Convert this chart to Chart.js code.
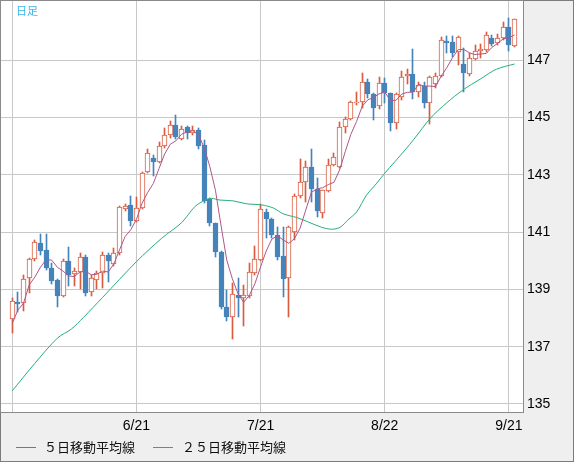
<!DOCTYPE html>
<html>
<head>
<meta charset="utf-8">
<script src="https://cdn.jsdelivr.net/npm/chart.js@4"></script>
<style>
  html, body { margin: 0; padding: 0; background: #efefef; }
  canvas { display: block; }
</style>
</head>
<body>
<canvas id="candle_chart" width="574" height="462"></canvas>
<script>
// daily candles, index 0 = 5/22 ... 89 = 9/22
var opens = [137.97,138.55,138.52,139.39,140.05,140.63,140.38,139.76,139.33,138.78,
  140.00,139.54,139.62,140.12,138.90,139.33,139.56,140.21,139.89,140.26,
  141.80,141.94,141.38,141.83,143.09,143.58,143.46,144.02,144.38,144.74,
  144.25,144.66,144.45,144.57,144.04,142.16,141.31,140.30,138.40,138.03,
  138.80,138.69,138.78,139.59,140.03,141.70,141.45,140.90,140.17,139.39,
  141.02,142.26,142.74,143.26,142.51,141.68,142.45,143.33,143.29,144.66,
  144.94,145.52,145.53,146.25,145.81,145.40,146.20,145.85,144.80,145.73,
  146.45,146.52,145.88,146.11,145.50,146.16,146.45,147.68,147.65,147.30,
  146.87,146.51,147.04,147.33,147.36,147.77,147.59,147.77,148.17,147.51];
var highs = [138.71,138.90,139.50,140.10,140.73,140.95,140.95,139.91,139.35,140.05,
  140.49,139.75,140.28,140.20,139.51,139.66,140.30,140.26,140.44,141.91,
  141.97,142.26,142.24,143.11,143.90,143.69,144.14,144.63,144.89,145.09,
  144.70,144.70,144.70,144.63,144.22,142.20,141.33,140.33,138.98,139.22,
  139.39,139.15,139.93,140.50,141.99,141.80,141.48,141.19,141.19,141.20,
  142.33,143.55,143.48,143.90,142.88,142.48,143.54,143.75,144.86,145.03,
  145.58,145.88,146.54,146.35,145.87,146.40,146.39,145.87,145.87,146.64,
  146.68,147.38,146.25,146.23,146.45,146.57,147.82,147.85,147.85,147.85,
  147.42,147.24,147.53,147.57,148.00,147.88,147.92,148.35,148.49,148.45];
var lows = [137.49,138.22,138.25,138.87,140.00,140.20,139.68,139.19,138.40,138.75,
  139.12,139.12,139.01,138.78,138.77,139.00,139.04,139.27,139.83,140.20,
  141.75,141.22,141.34,141.80,143.05,142.96,143.40,143.95,144.30,144.25,
  144.20,144.24,144.40,143.90,142.00,141.21,140.14,138.33,137.91,137.26,
  138.05,137.74,138.70,139.50,139.98,140.79,140.79,140.03,138.75,138.02,
  140.73,142.18,142.06,142.06,141.54,141.51,142.41,143.30,143.25,144.45,
  144.90,145.45,145.32,145.67,144.91,145.30,145.50,144.54,144.59,145.60,
  146.17,145.65,145.71,145.34,144.77,146.02,146.40,147.24,147.12,146.85,
  145.90,146.45,147.00,147.07,147.30,147.50,147.55,147.70,147.32,147.45];
var closes = [138.60,138.50,139.37,140.05,140.65,140.35,139.76,139.31,138.78,140.00,
  139.51,139.65,140.12,138.89,139.39,139.59,140.20,140.00,140.26,141.87,
  141.91,141.38,141.83,143.06,143.75,143.46,144.02,144.38,144.74,144.33,
  144.61,144.45,144.57,144.02,142.09,141.31,140.32,138.38,138.03,138.83,
  138.70,138.81,139.60,140.05,141.80,141.45,140.90,140.14,139.38,141.17,
  142.26,142.76,143.26,142.50,141.75,142.47,143.33,143.63,144.66,144.94,
  145.53,145.55,146.25,145.81,145.34,146.20,145.85,144.80,145.82,146.43,
  146.52,145.90,146.14,145.50,146.43,146.45,147.71,147.61,147.26,147.80,
  146.54,147.07,147.33,147.38,147.88,147.57,147.77,148.17,147.53,148.43];

// 5 day moving average
var ma5 = [137.82,138.28,138.52,139.16,139.43,139.78,140.04,140.02,139.77,139.64,
  139.47,139.45,139.61,139.63,139.51,139.53,139.64,139.61,139.89,140.38,
  140.85,141.08,141.45,142.01,142.39,142.70,143.22,143.73,144.07,144.19,
  144.42,144.50,144.54,144.40,143.95,143.29,142.46,141.22,140.03,139.37,
  138.85,138.55,138.79,139.20,139.79,140.34,140.76,140.87,140.73,140.61,
  140.77,141.14,141.77,142.39,142.51,142.55,142.66,142.74,143.17,143.81,
  144.42,144.86,145.39,145.62,145.70,145.83,145.89,145.60,145.60,145.82,
  145.88,145.89,146.16,146.10,146.10,146.08,146.45,146.74,147.09,147.37,
  147.38,147.26,147.20,147.22,147.24,147.45,147.59,147.75,147.78,147.89];

// 25 day moving average
var ma25Idx = [0, 4, 8, 10.5, 12.6, 16, 22, 26.5, 30, 32.4, 34.2, 35.3, 36.8, 39.2, 41.5, 44.2,
  46.3, 48, 50.4, 52.5, 54.8, 56.6, 58.1, 59.5, 61, 62.8, 64.6, 66, 67.8, 69.6,
  71.2, 74.1, 76.9, 79.9, 82.9, 85.8, 89];
var ma25 = [135.46, 136.42, 137.30, 137.62, 138.02, 138.72, 139.97, 140.79, 141.33, 141.90, 142.12, 142.18, 142.12, 142.09, 141.99, 141.95,
  141.84, 141.64, 141.51, 141.35, 141.17, 141.10, 141.17, 141.43, 141.70, 142.30, 142.71, 143.06, 143.46, 143.87,
  144.25, 144.98, 145.50, 145.97, 146.34, 146.69, 146.87];

var tickIdx = [0, 22, 44, 66, 88];
var tickLbl = ['', '6/21', '7/21', '8/22', '9/21'];
var yTicks = [135, 137, 139, 141, 143, 145, 147];

var UP = '#d95c3e', DOWN = '#4584bb', MA5C = '#b0578a', MA25C = '#25b079';

var up = opens.map(function (o, i) { return closes[i] >= o; });

var wickData = opens.map(function (o, i) { return { x: i, y: [lows[i], highs[i]] }; });
var bodyData = opens.map(function (o, i) { return { x: i, y: [o, closes[i]] }; });
var ma5Data = ma5.map(function (v, i) { return { x: i, y: v }; });
var ma25Data = ma25.map(function (v, i) { return { x: ma25Idx[i], y: v }; });

// snap candle rectangles to whole pixels so they stay crisp
var snapPlugin = {
  id: 'snap',
  afterDatasetsUpdate: function (chart) {
    chart.getSortedVisibleDatasetMetas().forEach(function (meta) {
      if (meta.type !== 'bar') return;
      meta.data.forEach(function (el) {
        el.x = Math.floor(el.x) + 0.5;
        el.y = Math.round(el.y);
        el.base = Math.round(el.base);
        if (el.base === el.y) el.base = el.y + 1;
      });
    });
  }
};

// background, frame, title and legend
var framePlugin = {
  id: 'frame',
  beforeDraw: function (chart) {
    var c = chart.ctx, a = chart.chartArea;
    c.save();
    c.fillStyle = '#efefef';
    c.fillRect(0, 0, chart.width, chart.height);
    c.fillStyle = '#ffffff';
    c.fillRect(a.left, a.top, a.right - a.left, a.bottom - a.top);
    c.restore();
  },
  afterDraw: function (chart) {
    var c = chart.ctx, a = chart.chartArea;
    c.save();
    c.strokeStyle = '#7c7c7c';
    c.lineWidth = 1;
    c.strokeRect(0.5, 0.5, chart.width - 1, chart.height - 1);
    c.strokeStyle = '#8a8a8a';
    c.strokeRect(a.left - 0.5, a.top - 0.5, a.right - a.left + 1, a.bottom - a.top + 1);

    c.fillStyle = '#3ab4e6';
    c.font = '11px "Noto Sans CJK JP"';
    c.textBaseline = 'middle';
    c.fillText('日足', 16, 10.5);

    // legend
    c.font = '13px "Noto Sans CJK JP"';
    c.lineWidth = 1;
    c.strokeStyle = MA5C;
    c.beginPath(); c.moveTo(16, 447.5); c.lineTo(36, 447.5); c.stroke();
    c.strokeStyle = MA25C;
    c.beginPath(); c.moveTo(153, 447.5); c.lineTo(173, 447.5); c.stroke();
    c.fillStyle = '#111';
    c.fillText('５日移動平均線', 44, 447);
    c.fillText('２５日移動平均線', 182, 447);
    c.restore();
  }
};

var ctx = document.getElementById('candle_chart');
var chart = new Chart(ctx, {
  type: 'bar',
  data: {
    datasets: [
      {
        type: 'line',
        label: '５日移動平均線',
        data: ma5Data,
        borderColor: MA5C,
        borderWidth: 1,
        pointRadius: 0,
        tension: 0,
        order: 1
      },
      {
        type: 'line',
        label: '２５日移動平均線',
        data: ma25Data,
        borderColor: MA25C,
        borderWidth: 1,
        pointRadius: 0,
        tension: 0.3,
        order: 1
      },
      {
        label: 'body',
        data: bodyData,
        backgroundColor: up.map(function (u) { return u ? '#ffffff' : DOWN; }),
        borderColor: up.map(function (u) { return u ? UP : DOWN; }),
        borderWidth: 1,
        borderSkipped: false,
        barThickness: 5,
        grouped: false,
        order: 2
      },
      {
        label: 'wick',
        data: wickData,
        backgroundColor: up.map(function (u) { return u ? UP : DOWN; }),
        borderWidth: 0,
        barThickness: 1,
        grouped: false,
        order: 3
      }
    ]
  },
  options: {
    responsive: false,
    animation: false,
    devicePixelRatio: 1,
    layout: { padding: { left: 1, top: 1, right: 0, bottom: 0 } },
    plugins: {
      legend: { display: false },
      tooltip: { enabled: false }
    },
    scales: {
      x: {
        type: 'linear',
        offset: false,
        min: -2,
        max: 90.5,
        grid: { color: '#c8c8c8', drawTicks: false, offset: false },
        border: { display: false },
        afterBuildTicks: function (scale) {
          scale.ticks = tickIdx.map(function (v) { return { value: v }; });
        },
        afterFit: function (scale) {
          scale.height = 50;
          scale.paddingLeft = 0;
          scale.paddingRight = 0;
        },
        ticks: {
          autoSkip: false,
          maxRotation: 0,
          padding: 6,
          color: '#000',
          font: { family: '"Liberation Sans", Arial, sans-serif', size: 14 },
          callback: function (v) {
            var k = tickIdx.indexOf(v);
            return k < 0 ? '' : tickLbl[k];
          }
        }
      },
      y: {
        position: 'right',
        min: 134.72,
        max: 149.07,
        grid: { color: '#c8c8c8', drawTicks: false },
        border: { display: false },
        afterBuildTicks: function (scale) {
          scale.ticks = yTicks.map(function (v) { return { value: v }; });
        },
        afterFit: function (scale) {
          scale.width = 51;
          scale.paddingTop = 0;
          scale.paddingBottom = 0;
        },
        ticks: {
          padding: 4,
          color: '#000',
          font: { family: '"Liberation Sans", Arial, sans-serif', size: 14 },
          callback: function (v) { return String(v); }
        }
      }
    }
  },
  plugins: [snapPlugin, framePlugin]
});
</script>
</body>
</html>
